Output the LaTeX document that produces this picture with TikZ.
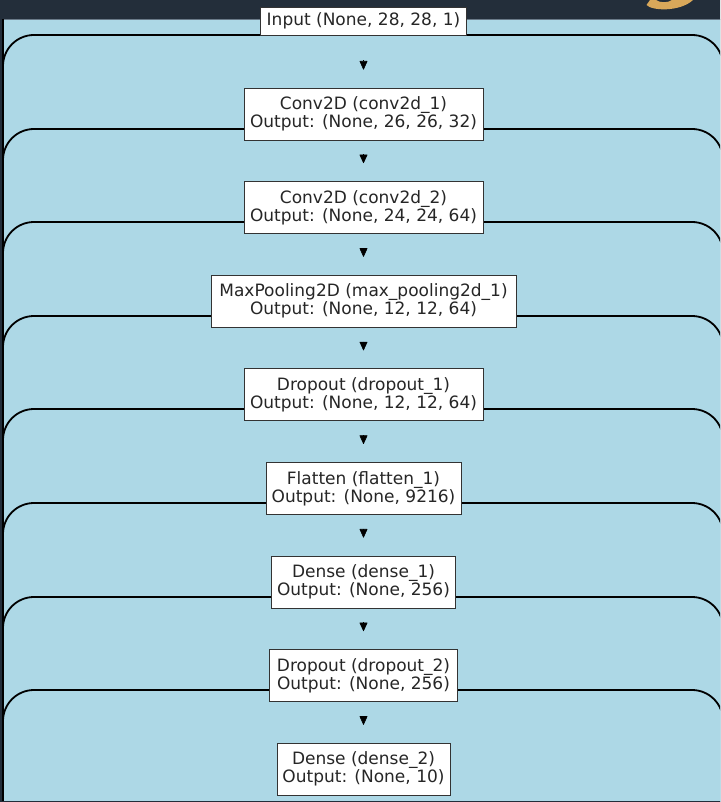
\documentclass[tikz,border=0pt]{standalone}
\usepackage{fontspec}
\setmainfont{DejaVu Sans}
\usetikzlibrary{arrows.meta}
\definecolor{navy}{HTML}{232E3A}
\definecolor{lblue}{HTML}{ADD8E6}
\definecolor{gold}{HTML}{D9A85A}
\definecolor{boxline}{HTML}{333333}
\definecolor{txt}{HTML}{262626}
\definecolor{topedge}{HTML}{6A7A88}
\tikzset{
  layerbox/.style={draw=boxline, line width=0.9pt, fill=white, text=txt, align=center,
    inner sep=0pt, minimum height=52pt, font=\fontsize{17}{18}\selectfont},
  band/.style={draw=black, line width=1.8pt, fill=lblue, rounded corners=31pt},
  tiponly/.style={-{Triangle[width=8pt,length=9pt,round]}, draw=black, line width=0.6pt, shorten >=18pt},
}
\begin{document}
\begin{tikzpicture}[x=1pt,y=-1pt]
\useasboundingbox (0,0) rectangle (720,802);
\clip (0,0) rectangle (720,802);
\fill[navy] (-5,-5) rectangle (730,810);
\fill[gold] (650,0) -- (646.5,5) .. controls (652,11) and (680,12) .. (693,0) -- (672,0)
  .. controls (668,3) and (660,3) .. (656,0) -- cycle;
\fill[lblue] (3,19) rectangle (730,800);
\draw[topedge, line width=0.8pt] (3,19.4) -- (730,19.4);
\draw[black, line width=1.8pt] (3,19) -- (3,800);
\foreach \y in {35,129,222,316,409,503,597,690}
  \draw[band] (3,840) -- (3,\y) -- (723,\y) -- (723,840);
\fill[navy] (-5,800.5) rectangle (730,810);

\node[layerbox, minimum width=206pt, minimum height=28pt] (in) at (363.5,21) {Input (None, 28, 28, 1)};
\node[layerbox, minimum width=239pt] (c1) at (363.5,114) {Conv2D (conv2d\_1)\\Output: (None, 26, 26, 32)};
\node[layerbox, minimum width=239pt] (c2) at (363.5,207.6) {Conv2D (conv2d\_2)\\Output: (None, 24, 24, 64)};
\node[layerbox, minimum width=305pt] (mp) at (363.5,301.2) {MaxPooling2D (max\_pooling2d\_1)\\Output: (None, 12, 12, 64)};
\node[layerbox, minimum width=239pt] (d1) at (363.5,394.8) {Dropout (dropout\_1)\\Output: (None, 12, 12, 64)};
\node[layerbox, minimum width=195pt] (fl) at (363.5,488.4) {Flatten (flatten\_1)\\Output: (None, 9216)};
\node[layerbox, minimum width=184pt] (de1) at (363.5,582) {Dense (dense\_1)\\Output: (None, 256)};
\node[layerbox, minimum width=188pt] (d2) at (363.5,675.6) {Dropout (dropout\_2)\\Output: (None, 256)};
\node[layerbox, minimum width=173pt] (de2) at (363.5,769.2) {Dense (dense\_2)\\Output: (None, 10)};

\draw[tiponly, shorten <=25pt] (in) -- (c1);
\draw[tiponly, shorten <=14pt] (c1) -- (c2);
\draw[tiponly, shorten <=14pt] (c2) -- (mp);
\draw[tiponly, shorten <=14pt] (mp) -- (d1);
\draw[tiponly, shorten <=14pt] (d1) -- (fl);
\draw[tiponly, shorten <=14pt] (fl) -- (de1);
\draw[tiponly, shorten <=14pt] (de1) -- (d2);
\draw[tiponly, shorten <=14pt] (d2) -- (de2);
\end{tikzpicture}
\end{document}
